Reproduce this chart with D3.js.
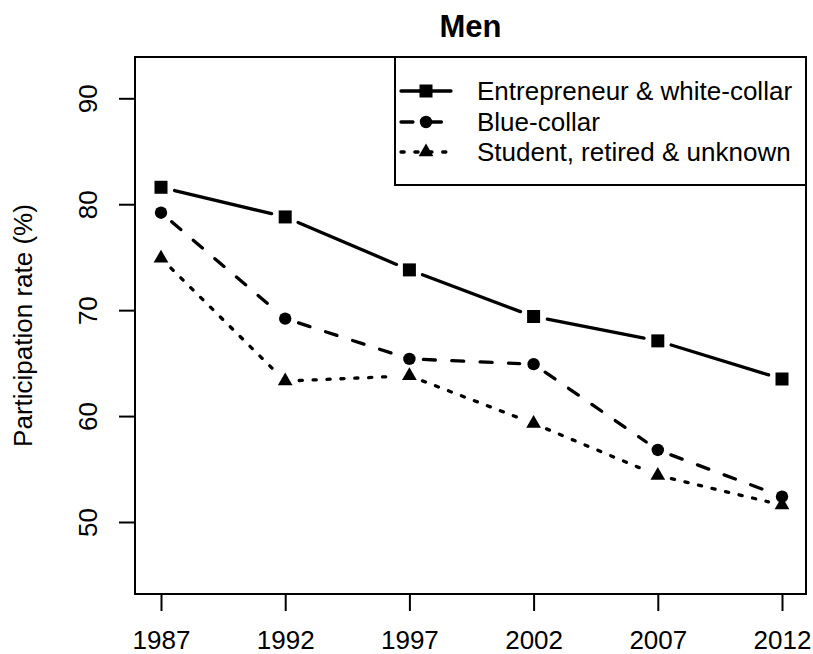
<!DOCTYPE html>
<html>
<head>
<meta charset="utf-8">
<script src="https://cdn.jsdelivr.net/npm/d3@7"></script>
<style>
  html, body { margin: 0; padding: 0; background: #fff; }
  svg { display: block; font-family: "Liberation Sans", Arial, Helvetica, sans-serif; }
</style>
</head>
<body>
<svg id="chart" width="813" height="654"></svg>
<script>
// ---- data ----
const years = [1987, 1992, 1997, 2002, 2007, 2012];
const entrepreneur = [81.6, 78.8, 73.8, 69.4, 67.1, 63.5];
const blueCollar = [79.2, 69.2, 65.4, 64.9, 56.8, 52.4];
const student = [74.9, 63.3, 63.8, 59.3, 54.4, 51.6];
const seriesNames = ["Entrepreneur & white-collar", "Blue-collar", "Student, retired & unknown"];
const yTicks = [50, 60, 70, 80, 90];
const title = "Men";
const yLabel = "Participation rate (%)";

// ---- layout ----
const W = 813, H = 654;
const box = { left: 135, right: 806, top: 57, bottom: 594 };
const svg = d3.select("#chart");

const x = d3.scaleLinear().domain([1987, 2012]).range([161, 782]);
const y = d3.scaleLinear().domain([50, 90]).range([522, 98.3]);

const styles = [
  { dash: null, marker: "square" },
  { dash: "12,16.4", marker: "circle" },
  { dash: "3.2,10.7", marker: "triangle" }
];
const seriesData = [entrepreneur, blueCollar, student];

// ---- plot box ----
svg.append("rect")
  .attr("x", box.left).attr("y", box.top)
  .attr("width", box.right - box.left).attr("height", box.bottom - box.top)
  .attr("fill", "none").attr("stroke", "#000").attr("stroke-width", 2);

// ---- axes ----
const xAxis = d3.axisBottom(x).tickValues(years).tickFormat(d3.format("d")).tickSize(17).tickPadding(0);
const gx = svg.append("g").attr("transform", `translate(0,${box.bottom})`).call(xAxis);
gx.select(".domain").remove();
gx.selectAll(".tick line").attr("stroke", "#000").attr("stroke-width", 2);
gx.selectAll(".tick text").attr("y", 54.5).attr("dy", null)
  .attr("font-size", 26).attr("fill", "#000")
  .attr("font-family", "'Liberation Sans', Arial, sans-serif");

const yAxis = d3.axisLeft(y).tickValues(yTicks).tickFormat(d3.format("d")).tickSize(16);
const gy = svg.append("g").attr("transform", `translate(${box.left},0)`).call(yAxis);
gy.select(".domain").remove();
gy.selectAll(".tick line").attr("stroke", "#000").attr("stroke-width", 2);
gy.selectAll(".tick text")
  .attr("x", null).attr("dy", null)
  .attr("transform", "translate(-38.3,0) rotate(-90)")
  .attr("text-anchor", "middle")
  .attr("font-size", 26).attr("fill", "#000")
  .attr("font-family", "'Liberation Sans', Arial, sans-serif");

// ---- title & y label ----
svg.append("text").attr("x", (box.left + box.right) / 2).attr("y", 37)
  .attr("text-anchor", "middle").attr("font-weight", "bold").attr("font-size", 31)
  .text(title);

svg.append("text")
  .attr("transform", `translate(32,${(box.top + box.bottom) / 2}) rotate(-90)`)
  .attr("text-anchor", "middle").attr("font-size", 26)
  .text(yLabel);

// ---- markers ----
function drawMarker(g, type, cx, cy) {
  if (type === "square") {
    g.append("rect").attr("x", cx - 6.5).attr("y", cy - 6.5).attr("width", 13).attr("height", 13).attr("fill", "#000");
  } else if (type === "circle") {
    g.append("circle").attr("cx", cx).attr("cy", cy).attr("r", 6.2).attr("fill", "#000");
  } else {
    const r = 8.5, xc = r * 0.866, yc = r * 0.5;
    g.append("path").attr("d", `M${cx},${cy - r}L${cx + xc},${cy + yc}L${cx - xc},${cy + yc}Z`).attr("fill", "#000");
  }
}

// ---- series (type = "b": gapped segments + points) ----
const gap = 14;
seriesData.forEach((vals, si) => {
  const g = svg.append("g");
  const pts = years.map((yr, i) => [x(yr), y(vals[i])]);
  for (let i = 0; i < pts.length - 1; i++) {
    const [x0, y0] = pts[i], [x1, y1] = pts[i + 1];
    const dx = x1 - x0, dy = y1 - y0, len = Math.hypot(dx, dy);
    const ux = dx / len, uy = dy / len;
    const seg = g.append("line")
      .attr("x1", x0 + ux * gap).attr("y1", y0 + uy * gap)
      .attr("x2", x1 - ux * gap).attr("y2", y1 - uy * gap)
      .attr("stroke", "#000").attr("stroke-width", 3.3).attr("stroke-linecap", "round");
    if (styles[si].dash) seg.attr("stroke-dasharray", styles[si].dash);
  }
  pts.forEach(p => drawMarker(g, styles[si].marker, p[0], p[1]));
});

// ---- legend ----
const leg = { left: 395, top: 57, right: 806, bottom: 185 };
svg.append("rect").attr("x", leg.left).attr("y", leg.top)
  .attr("width", leg.right - leg.left).attr("height", leg.bottom - leg.top)
  .attr("fill", "#fff").attr("stroke", "#000").attr("stroke-width", 2);
const rowY = [91, 122, 152];
seriesNames.forEach((name, i) => {
  const g = svg.append("g");
  const ln = g.append("line").attr("x1", 401).attr("x2", 451).attr("y1", rowY[i]).attr("y2", rowY[i])
    .attr("stroke", "#000").attr("stroke-width", 3.3).attr("stroke-linecap", "round");
  if (styles[i].dash) ln.attr("stroke-dasharray", styles[i].dash);
  drawMarker(g, styles[i].marker, 426, rowY[i]);
  g.append("text").attr("x", 477).attr("y", rowY[i] + 9.3).attr("font-size", 26).text(name);
});
</script>
</body>
</html>
